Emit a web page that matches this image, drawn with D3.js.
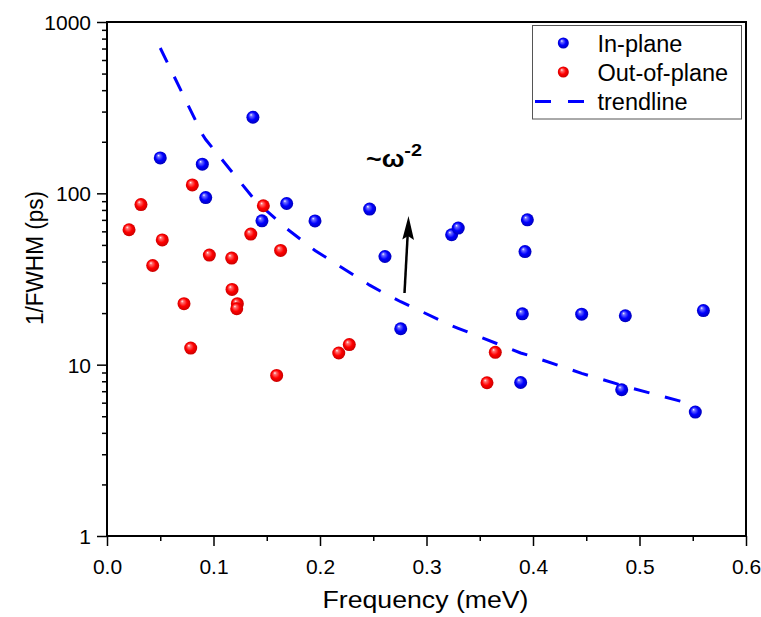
<!DOCTYPE html>
<html>
<head>
<meta charset="utf-8">
<script src="https://cdn.jsdelivr.net/npm/d3@7"></script>
<style>
  body { margin: 0; background: #fff; }
  text { font-family: "Liberation Sans", Arial, sans-serif; fill: #000; }
</style>
</head>
<body>
<script>
const width = 761;
const height = 617;

// In-plane points (frequency in meV, 1/FWHM in ps)
const inPlaneX = [0.050, 0.137, 0.0895, 0.0927, 0.1455, 0.1687, 0.1953, 0.2466, 0.261, 0.3236, 0.3298, 0.3947, 0.3925, 0.2758, 0.390, 0.4457, 0.4867, 0.560, 0.3884, 0.4833, 0.5524];
const inPlaneY = [161, 278, 148, 94.5, 69.1, 87.2, 69, 80.9, 42.8, 57.3, 62.7, 70, 45.7, 16.2, 19.8, 19.7, 19.3, 20.7, 7.87, 7.14, 5.29];

// Out-of-plane points
const outPlaneX = [0.0207, 0.0319, 0.0429, 0.0519, 0.0801, 0.0961, 0.1171, 0.1174, 0.135, 0.1468, 0.163, 0.0723, 0.0786, 0.1224, 0.1218, 0.1593, 0.2176, 0.2275, 0.3646, 0.3568];
const outPlaneY = [61.3, 86, 37.9, 53.5, 112, 43.6, 41.9, 27.5, 57.8, 84.6, 46.4, 22.7, 12.5, 22.7, 21.2, 8.65, 11.7, 13.1, 11.8, 7.84];

// trendline vertices
const trendX = [0.050, 0.0895, 0.0927, 0.137, 0.1455, 0.1687, 0.1953, 0.2466, 0.261, 0.2758, 0.3236, 0.3298, 0.3884, 0.3947, 0.4457, 0.4833, 0.4867, 0.5524];
const trendY = [705, 221, 206, 94.3, 83.6, 62.2, 46.4, 29.1, 26.0, 23.3, 16.9, 16.3, 11.7, 11.4, 8.9, 7.58, 7.47, 5.8];

const xMajor = [0, 0.1, 0.2, 0.3, 0.4, 0.5, 0.6];
const xMinor = [0.05, 0.15, 0.25, 0.35, 0.45, 0.55];
const yMajor = [1, 10, 100, 1000];
const yMinor = [2, 3, 4, 5, 6, 7, 8, 9, 20, 30, 40, 50, 60, 70, 80, 90, 200, 300, 400, 500, 600, 700, 800, 900];

const legendItems = ["In-plane", "Out-of-plane", "trendline"];

const plotLeft = 107, plotRight = 746, plotTop = 22, plotBottom = 536;

const x = d3.scaleLinear().domain([0, 0.6]).range([plotLeft, plotRight]);
const y = d3.scaleLog().domain([1, 1000]).range([plotBottom, plotTop]);

const svg = d3.select("body")
    .append("svg")
    .attr("width", width)
    .attr("height", height);

// shiny ball gradients
const defs = svg.append("defs");
function ball(id, light, base, dark) {
    const g = defs.append("radialGradient")
        .attr("id", id)
        .attr("cx", "50%").attr("cy", "50%").attr("r", "55%")
        .attr("fx", "35%").attr("fy", "30%");
    g.append("stop").attr("offset", "0%").attr("stop-color", "#ffffff");
    g.append("stop").attr("offset", "18%").attr("stop-color", light);
    g.append("stop").attr("offset", "55%").attr("stop-color", base);
    g.append("stop").attr("offset", "100%").attr("stop-color", dark);
}
ball("blueBall", "#7070ff", "#0000ff", "#0000b0");
ball("redBall", "#ff7070", "#ff0000", "#c00000");

// axes
const yAxis = svg.append("g")
    .attr("transform", `translate(${plotLeft},0)`)
    .call(d3.axisLeft(y).tickValues(yMajor).tickSize(10).tickPadding(6).tickFormat(d3.format("d")));
const yAxisMinor = svg.append("g")
    .attr("transform", `translate(${plotLeft},0)`)
    .call(d3.axisLeft(y).tickValues(yMinor).tickSize(5).tickFormat(""));
const xAxis = svg.append("g")
    .attr("transform", `translate(0,${plotBottom})`)
    .call(d3.axisBottom(x).tickValues(xMajor).tickSize(10).tickPadding(13).tickFormat(d3.format(".1f")));
const xAxisMinor = svg.append("g")
    .attr("transform", `translate(0,${plotBottom})`)
    .call(d3.axisBottom(x).tickValues(xMinor).tickSize(5).tickFormat(""));

[yAxis, yAxisMinor, xAxis, xAxisMinor].forEach(function(a) {
    a.select(".domain").remove();
    a.selectAll(".tick line").attr("stroke", "#000").attr("stroke-width", 1.5);
    a.selectAll(".tick text")
        .style("font-size", "21px")
        .style("font-family", "Liberation Sans, Arial, sans-serif")
        .attr("fill", "#000");
});
yAxis.selectAll(".tick text").attr("dy", "0.36em");

// frame
svg.append("rect")
    .attr("x", plotLeft)
    .attr("y", plotTop)
    .attr("width", plotRight - plotLeft)
    .attr("height", plotBottom - plotTop)
    .attr("fill", "none")
    .attr("stroke", "#000")
    .attr("stroke-width", 2);

// trendline
const line = d3.line()
    .x(d => x(d[0]))
    .y(d => y(d[1]));

svg.append("path")
    .datum(d3.zip(trendX, trendY))
    .attr("d", line)
    .attr("fill", "none")
    .attr("stroke", "#0000ff")
    .attr("stroke-width", 3)
    .attr("stroke-dasharray", "16,16");

// points
svg.append("g")
    .selectAll("circle")
    .data(d3.zip(outPlaneX, outPlaneY))
    .enter()
    .append("circle")
    .attr("cx", d => x(d[0]))
    .attr("cy", d => y(d[1]))
    .attr("r", 6.5)
    .attr("fill", "url(#redBall)");

svg.append("g")
    .selectAll("circle")
    .data(d3.zip(inPlaneX, inPlaneY))
    .enter()
    .append("circle")
    .attr("cx", d => x(d[0]))
    .attr("cy", d => y(d[1]))
    .attr("r", 6.5)
    .attr("fill", "url(#blueBall)");

// arrow and annotation
svg.append("line")
    .attr("x1", 404.5).attr("y1", 293)
    .attr("x2", 407.6).attr("y2", 236)
    .attr("stroke", "#000")
    .attr("stroke-width", 2.5);

svg.append("path")
    .attr("d", "M408.5,216 L414,240 L408,236 L402.3,239.5 Z")
    .attr("fill", "#000");

const note = svg.append("text")
    .attr("x", 366)
    .attr("y", 167)
    .attr("textLength", 56)
    .attr("lengthAdjust", "spacingAndGlyphs")
    .style("font-size", "23px")
    .style("font-weight", "bold");
note.append("tspan").text("~ω");
note.append("tspan")
    .attr("dy", -11)
    .style("font-size", "17px")
    .text("-2");

// axis titles
svg.append("text")
    .attr("x", (plotLeft + plotRight) / 2 - 1)
    .attr("y", 608)
    .attr("text-anchor", "middle")
    .attr("textLength", 206)
    .attr("lengthAdjust", "spacingAndGlyphs")
    .style("font-size", "23px")
    .text("Frequency (meV)");

svg.append("text")
    .attr("transform", "translate(43,258) rotate(-90)")
    .attr("text-anchor", "middle")
    .attr("textLength", 134)
    .attr("lengthAdjust", "spacingAndGlyphs")
    .style("font-size", "23px")
    .text("1/FWHM (ps)");

// legend
const legend = svg.append("g");
legend.append("rect")
    .attr("x", 532.5)
    .attr("y", 25.5)
    .attr("width", 209)
    .attr("height", 93.5)
    .attr("fill", "#fff")
    .attr("stroke", "#555")
    .attr("stroke-width", 1);

const legendY = [51.5, 80.5, 110];
legend.append("circle")
    .attr("cx", 563.3).attr("cy", legendY[0] - 8.5)
    .attr("r", 5.5)
    .attr("fill", "url(#blueBall)");
legend.append("circle")
    .attr("cx", 563.3).attr("cy", legendY[1] - 8.5)
    .attr("r", 5.5)
    .attr("fill", "url(#redBall)");
legend.append("line")
    .attr("x1", 535).attr("x2", 584)
    .attr("y1", legendY[2] - 8.5).attr("y2", legendY[2] - 8.5)
    .attr("stroke", "#0000ff")
    .attr("stroke-width", 3)
    .attr("stroke-dasharray", "16,17");

legend.selectAll("text.item")
    .data(legendItems)
    .enter()
    .append("text")
    .attr("class", "item")
    .attr("x", 597.5)
    .attr("y", (d, i) => legendY[i])
    .style("font-size", "23.5px")
    .text(d => d);
</script>
</body>
</html>
